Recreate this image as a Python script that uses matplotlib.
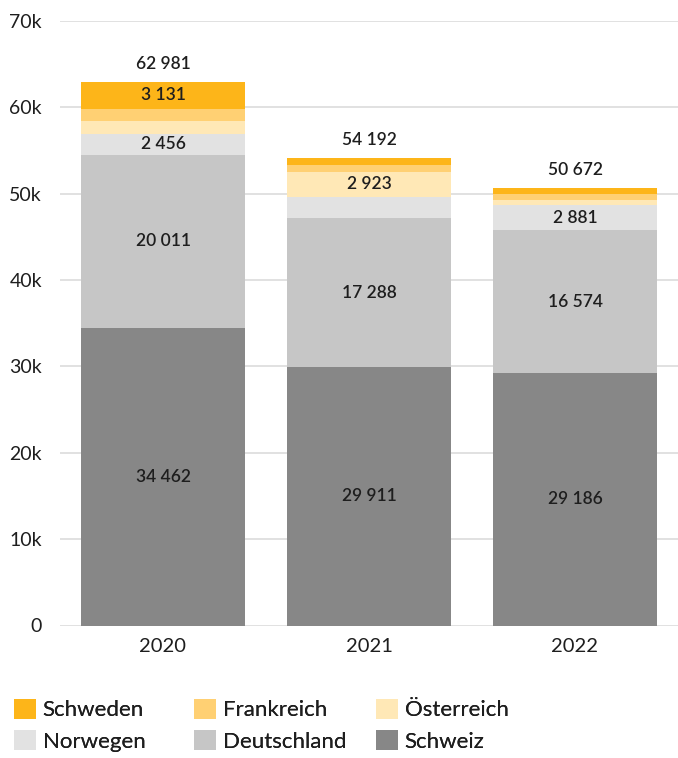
import matplotlib
matplotlib.use("Agg")
import matplotlib.pyplot as plt
from matplotlib.patches import Patch
from matplotlib.ticker import FuncFormatter

plt.rcParams['font.family'] = ['Lato', 'DejaVu Sans']

years = ["2020", "2021", "2022"]
countries = ["Schweiz", "Deutschland", "Norwegen", "Österreich", "Frankreich", "Schweden"]
schweiz = [34462, 29911, 29186]
deutschland = [20011, 17288, 16574]
norwegen = [2456, 2440, 2881]
oesterreich = [1531, 2923, 631]
frankreich = [1390, 820, 720]
schweden = [3131, 810, 680]
totals = [62981, 54192, 50672]

series = [schweiz, deutschland, norwegen, oesterreich, frankreich, schweden]
colors = ["#878787", "#c6c6c6", "#e2e2e2", "#ffe8b6", "#ffd073", "#fdb519"]
label_min = 2450
text_color = "#1e1e1e"


def fmt(v):
    return f"{v:,}".replace(",", " ")


W, H = 678, 758
fig = plt.figure(figsize=(W / 100, H / 100), dpi=100)
ax = fig.add_axes([60 / W, 132.5 / H, 1 - 60 / W, 604.5 / H])

x = list(range(len(years)))
bottom = [0] * len(years)
for vals, col in zip(series, colors):
    ax.bar(x, vals, bottom=bottom, width=0.8, color=col, zorder=2)
    for i, v in enumerate(vals):
        if v > label_min:
            ax.text(i, bottom[i] + v / 2, fmt(v), ha="center", va="center",
                    fontsize=12.5, fontweight="semibold", color=text_color, zorder=3)
    bottom = [b + v for b, v in zip(bottom, vals)]

for i, t in enumerate(totals):
    ax.annotate(fmt(t), (i, t), xytext=(0, 7), textcoords="offset points",
                ha="center", va="bottom", fontsize=12.5, fontweight="semibold",
                color=text_color)

ax.set_xlim(-0.5, 2.5)
ax.set_ylim(0, 70000)
ax.set_yticks(range(0, 70001, 10000))
ax.yaxis.set_major_formatter(FuncFormatter(lambda v, p: "0" if v == 0 else f"{int(v/1000)}k"))
ax.set_xticks(x)
ax.set_xticklabels(years)
ax.grid(axis="y", color="#dcdcdc", linewidth=1.2, zorder=0)
ax.tick_params(axis="both", length=0, colors=text_color)
ax.tick_params(axis="y", pad=13, labelsize=14)
ax.tick_params(axis="x", pad=9, labelsize=14.5)
for s in ax.spines.values():
    s.set_visible(False)

# legend: three columns of two entries each
cmap = dict(zip(countries, colors))
legend_cols = [["Schweden", "Norwegen"], ["Frankreich", "Deutschland"], ["Österreich", "Schweiz"]]
col_x = [5, 185, 367]
for names, cx in zip(legend_cols, col_x):
    handles = [Patch(facecolor=cmap[n], label=n) for n in names]
    leg = fig.legend(handles=handles, loc="upper left",
                     bbox_to_anchor=(cx / W, 1 - 690 / H), borderaxespad=0,
                     frameon=False, fontsize=16, handlelength=1.0, handleheight=1.0,
                     handletextpad=0.3, labelspacing=0.45, labelcolor=text_color)
    fig.add_artist(leg)

fig.savefig("out.png", dpi=100)
